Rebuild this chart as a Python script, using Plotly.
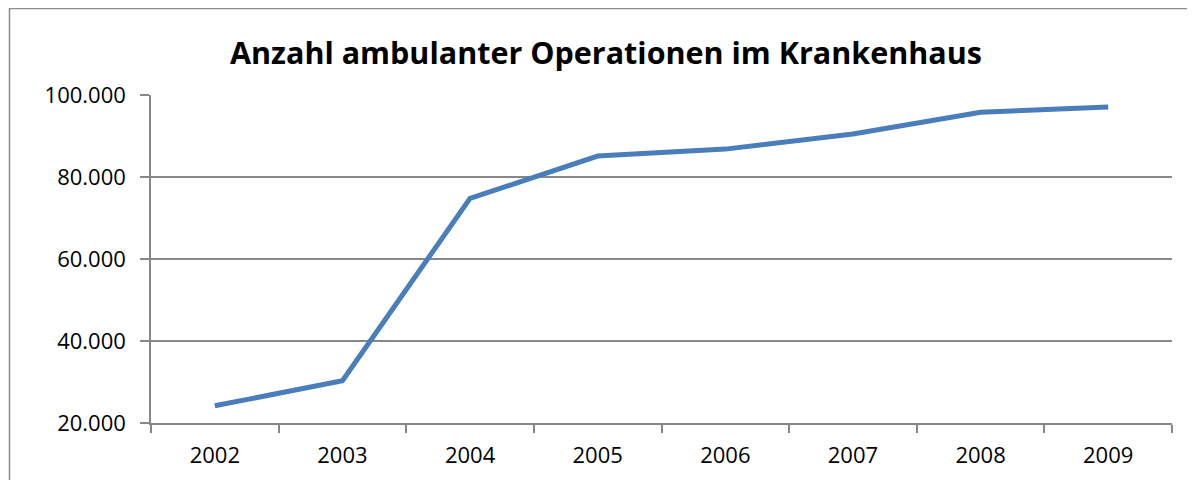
import plotly.graph_objects as go

years = ["2002", "2003", "2004", "2005", "2006", "2007", "2008", "2009"]
operations = [24200, 30300, 74800, 85100, 86800, 90500, 95800, 97100]
y_ticks = [20000, 40000, 60000, 80000, 100000]
title_text = "Anzahl ambulanter Operationen im Krankenhaus"

OFF = 8  # page offset (body margin)
W, H = 1195 - OFF, 480 - OFF
L, R, T, B = 151 - OFF, 1172 - OFF, 95 - OFF, 423 - OFF

fig = go.Figure()
fig.add_trace(go.Scatter(
    x=years, y=operations, mode="lines",
    line=dict(color="#4A7EBB", width=5),
    hoverinfo="skip", showlegend=False,
))

gray = "#878787"
fig.update_layout(
    width=W, height=H,
    margin=dict(l=L, r=W - R, t=T, b=H - B, pad=0),
    paper_bgcolor="white", plot_bgcolor="white",
    separators=",.",
    font=dict(family="Open Sans, Liberation Sans, sans-serif", color="black"),
    title=dict(text="<b>" + title_text + "</b>", x=(606 - OFF) / W, xanchor="center",
               y=1 - (53 - OFF) / H, yanchor="middle",
               font=dict(size=30.5, family="Open Sans, sans-serif", color="black")),
    xaxis=dict(
        type="category", range=[-0.5, 7.5],
        showline=True, linecolor=gray, linewidth=1.5,
        ticks="outside", tickson="boundaries", ticklen=8, tickcolor=gray, tickwidth=1.5,
        showgrid=False, tickfont=dict(size=22), ticklabelstandoff=12,
    ),
    yaxis=dict(
        range=[20000, 100000], tickvals=y_ticks, tickformat=",.0f",
        showline=True, linecolor=gray, linewidth=1.5,
        ticks="outside", ticklen=9, tickcolor=gray, tickwidth=1.5,
        showgrid=True, gridcolor=gray, gridwidth=1.5, zeroline=False,
        tickfont=dict(size=22), ticklabelstandoff=10,
    ),
    shapes=[dict(
        type="rect", xref="paper", yref="paper",
        x0=(9.5 - OFF - L) / (R - L), x1=(W + 20 - L) / (R - L),
        y0=(B - (H + 20)) / (B - T), y1=1 + (T - (8.5 - OFF)) / (B - T),
        line=dict(color="#8c8c8c", width=1.5), fillcolor="rgba(0,0,0,0)",
        layer="below",
    )],
)

fig.write_html("out.html")
